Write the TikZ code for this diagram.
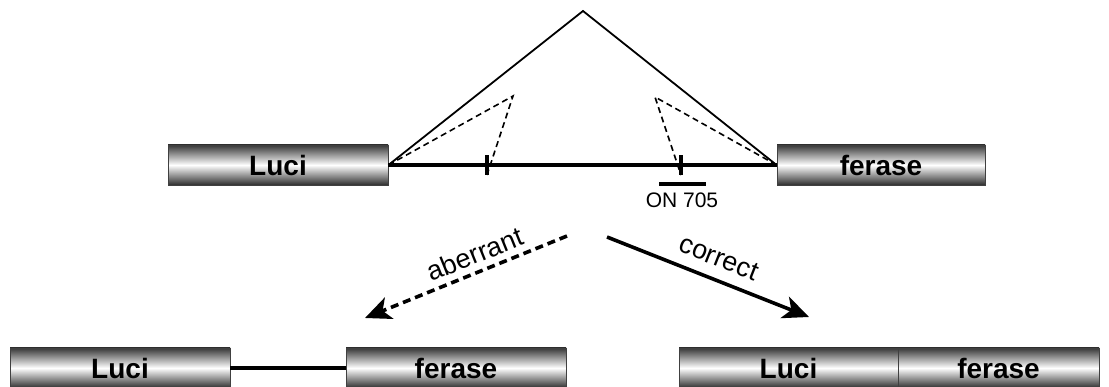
\documentclass[tikz,border=0pt]{standalone}
\usepackage{fontspec}
\setmainfont{Liberation Sans}
\usetikzlibrary{arrows.meta}
\begin{document}
\begin{tikzpicture}[x=1pt,y=-1pt,
  exon/.style={rectangle, draw=black!75, line width=0.9pt, inner sep=0pt,
    minimum height=40pt, top color=black!78, bottom color=black!82, middle color=white,
    font=\fontsize{28}{30}\selectfont\bfseries},
  backbone/.style={line width=3.5pt},
  splice/.style={line width=1.8pt},
  altsplice/.style={line width=1.6pt, dash pattern=on 6pt off 4pt},
  tick/.style={line width=3.5pt},
  lab/.style={font=\fontsize{27}{30}\selectfont, inner sep=0pt},
  arr/.style={line width=3.6pt, -{Stealth[length=26pt,width=23pt,inset=7pt]}}
]
\useasboundingbox (0,0) rectangle (1109,387);
% top construct
\node[exon, minimum width=220pt] (luciA) at (278,165) {Luci};
\node[exon, minimum width=208pt] (ferA) at (881,165) {ferase};
\draw[backbone] (luciA.east) -- (ferA.west);
\coordinate (peak) at (583,11);
\coordinate (dl) at (513,96);
\coordinate (dr) at (655,97);
\coordinate (t1) at (487,165);
\coordinate (t2) at (681,165);
\draw[tick] ([yshift=-10pt]t1) -- ([yshift=10pt]t1);
\draw[tick] ([yshift=-10pt]t2) -- ([yshift=10pt]t2);
\draw[splice] (luciA.east) -- (peak) -- (ferA.west);
\draw[altsplice] (luciA.east) -- (dl) -- ([yshift=-10pt]t1);
\draw[altsplice] (ferA.west) -- (dr) -- ([yshift=-10pt]t2);
% ON 705
\coordinate (onL) at (659,184);
\coordinate (onR) at (706,184);
\draw[line width=4.5pt] (onL) -- (onR);
\node[font=\fontsize{21}{24}\selectfont, inner sep=0pt] (on) at (682,200) {ON 705};
% arrows
\coordinate (a1) at (567,236);
\coordinate (a2) at (365,318);
\coordinate (c1) at (607,237);
\coordinate (c2) at (809,317);
\draw[arr, dash pattern=on 8pt off 5pt] (a1) -- (a2);
\draw[arr] (c1) -- (c2);
\node[lab, rotate=22] (ab) at (475,254) {aberrant};
\node[lab, rotate=-21.6] (co) at (719,258) {correct};
% bottom left
\node[exon, minimum width=220pt] (luciB) at (120,368) {Luci};
\node[exon, minimum width=220pt] (ferB) at (456,368) {ferase};
\draw[backbone] (luciB.east) -- (ferB.west);
% bottom right
\node[exon, minimum width=219pt] (luciC) at (788.5,368) {Luci};
\node[exon, minimum width=201pt] (ferC) at (998.5,368) {ferase};
\end{tikzpicture}
\end{document}
